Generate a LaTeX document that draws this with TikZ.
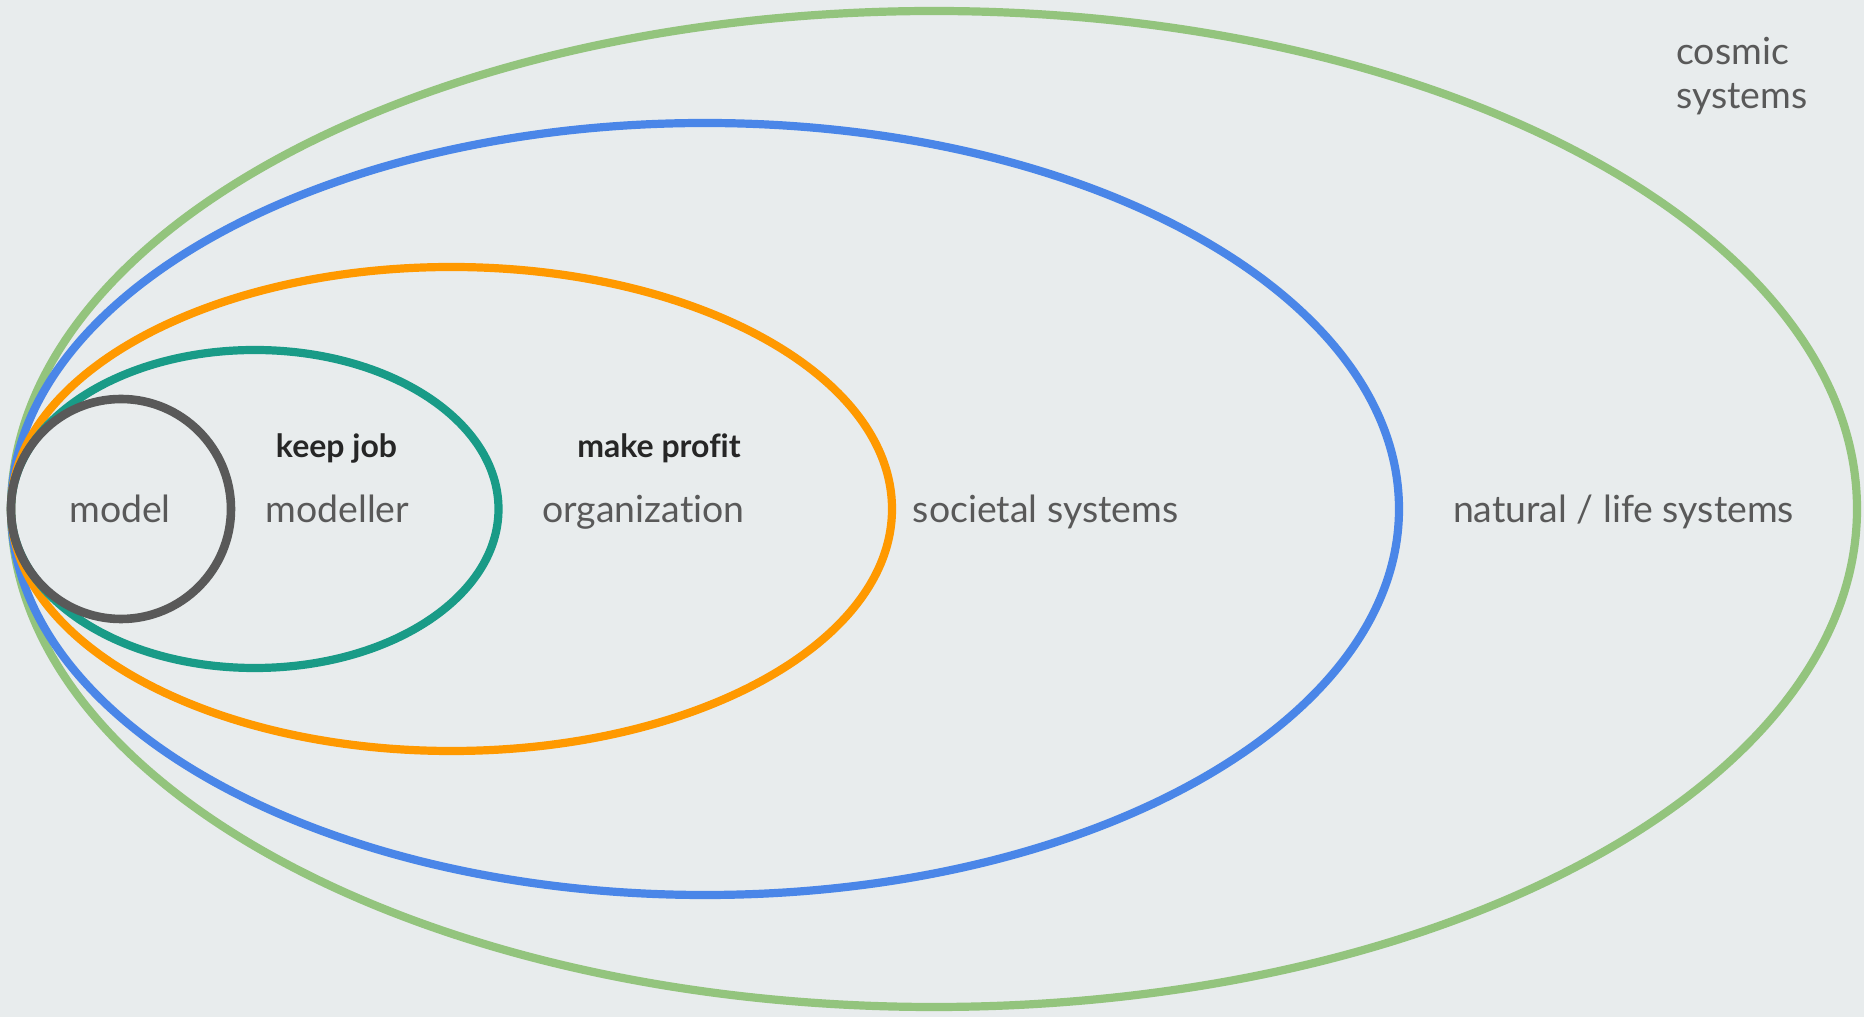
\documentclass[tikz,border=0pt]{standalone}
\usepackage{fontspec}
\setmainfont{Lato}[Ligatures=NoCommon]
\usepackage{tikz}

\definecolor{bg_gray}{HTML}{E8ECED}
\definecolor{ring_green}{HTML}{93C47D}
\definecolor{ring_blue}{HTML}{4A86E8}
\definecolor{ring_orange}{HTML}{FF9900}
\definecolor{ring_teal}{HTML}{199B87}
\definecolor{ring_gray}{HTML}{595959}
\definecolor{text_gray}{HTML}{595959}

\begin{document}
\begin{tikzpicture}[x=0.5pt, y=0.5pt,
		ring_style/.style={line width=4.1pt},
		label_style/.style={anchor=base,text=text_gray,font=\fontsize{18.7}{22}\selectfont,inner sep=0pt},
		goal_style/.style={anchor=base,text=black!85,font=\fontsize{16}{19}\selectfont\bfseries,inner sep=0pt}]
		
		\fill[bg_gray] (0,0) rectangle (1864,1017);
		\useasboundingbox (0,0) rectangle (1864,1017);
		
		\draw[ring_style, ring_green]  (934,508) ellipse [x radius=923, y radius=498];
		\draw[ring_style, ring_blue]   (705,508) ellipse [x radius=694, y radius=386];
		\draw[ring_style, ring_orange] (451.5,508) ellipse [x radius=440.5, y radius=242];
		\draw[ring_style, ring_teal]   (254.75,508) ellipse [x radius=243.75, y radius=159];
		\draw[ring_style, ring_gray, line width=4.3pt] (121,508) circle [radius=110];
		
		\node[label_style] (model) at (120,494) {model};
		\node[label_style] (modeller) at (337.5,494) {modeller};
		\node[label_style] (org) at (643.5,494) {organization};
		\node[label_style] (societal) at (1045.5,494) {societal systems};
		\node[label_style] (natural) at (1623.5,494) {natural / life systems};
		\node[label_style, anchor=base west] (cosmic) at (1676,952) {cosmic};
		\node[label_style, anchor=base west] (cosmic2) at (1676,908) {systems};
		
		\node[goal_style] (keepjob) at (336.5,559) {keep job};
		\node[goal_style] (profit) at (659,559) {make profit};
		
\end{tikzpicture}
\end{document}
